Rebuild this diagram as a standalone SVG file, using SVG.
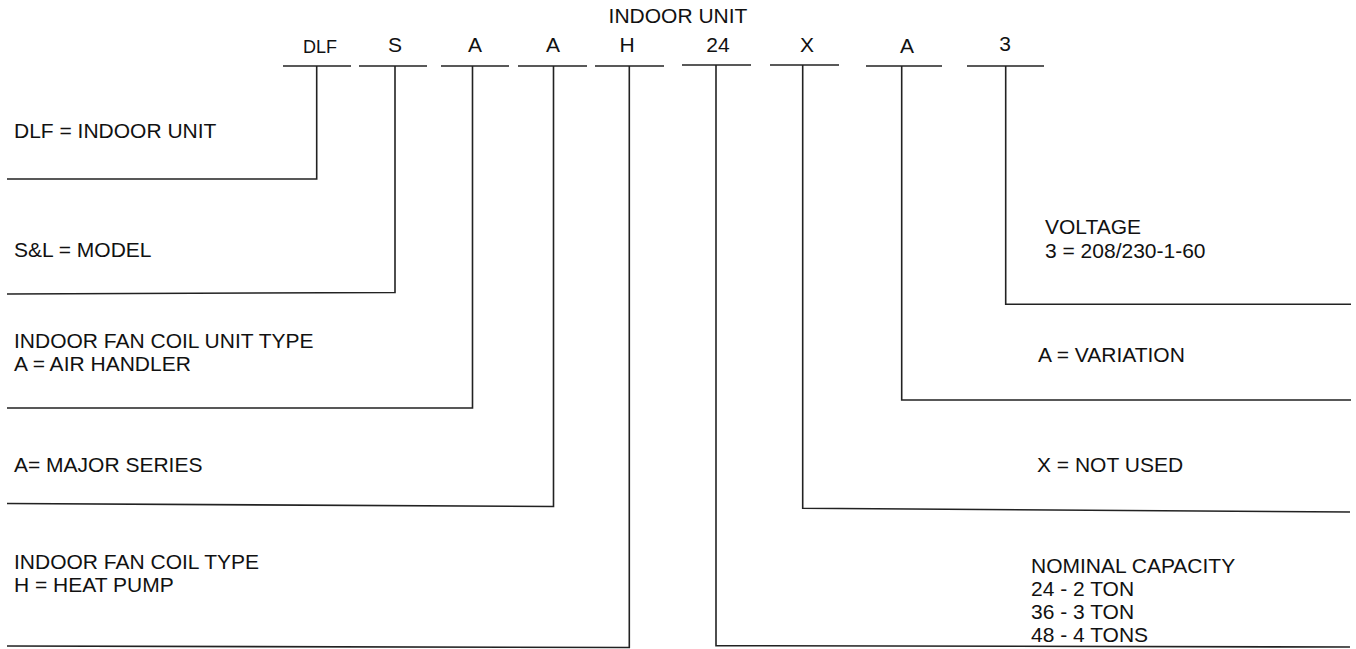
<svg xmlns="http://www.w3.org/2000/svg" width="1356" height="649" viewBox="0 0 1356 649">
<style>
text{font-family:"Liberation Sans",Arial,sans-serif;font-size:21px;fill:#111}
.c{text-anchor:middle}
.seg{stroke:#222;stroke-width:1.6;fill:none}
.con{stroke:#222;stroke-width:1.6;fill:none;stroke-linejoin:miter}
</style>
<rect width="1356" height="649" fill="#fff"/>
<g id="title"><text class="c" x="678" y="23">INDOOR UNIT</text></g>
<g id="code-dlf"><text class="c" x="320" y="53" style="font-size:18px">DLF</text><line class="seg" x1="283" y1="66" x2="351" y2="66"/></g>
<g id="code-s"><text class="c" x="395" y="52">S</text><line class="seg" x1="359" y1="66" x2="427" y2="66"/></g>
<g id="code-a1"><text class="c" x="475" y="52">A</text><line class="seg" x1="441" y1="66" x2="509" y2="66"/></g>
<g id="code-a2"><text class="c" x="553" y="52">A</text><line class="seg" x1="518" y1="66" x2="587" y2="66"/></g>
<g id="code-h"><text class="c" x="627" y="52">H</text><line class="seg" x1="595" y1="66" x2="664" y2="66"/></g>
<g id="code-24"><text class="c" x="718" y="52">24</text><line class="seg" x1="682" y1="65" x2="751" y2="65"/></g>
<g id="code-x"><text class="c" x="807" y="52">X</text><line class="seg" x1="770" y1="65" x2="839" y2="65"/></g>
<g id="code-a3"><text class="c" x="907" y="53">A</text><line class="seg" x1="866" y1="66" x2="942" y2="66"/></g>
<g id="code-3"><text class="c" x="1005" y="51">3</text><line class="seg" x1="967" y1="66" x2="1044" y2="66"/></g>

<g id="desc-dlf"><text x="14" y="138">DLF = INDOOR UNIT</text></g>
<g id="desc-s"><text x="14" y="257">S&amp;L = MODEL</text></g>
<g id="desc-a1"><text x="14" y="348">INDOOR FAN COIL UNIT TYPE</text><text x="14" y="371">A = AIR HANDLER</text></g>
<g id="desc-a2"><text x="14" y="472">A= MAJOR SERIES</text></g>
<g id="desc-h"><text x="14" y="569">INDOOR FAN COIL TYPE</text><text x="14" y="592">H = HEAT PUMP</text></g>
<g id="desc-3"><text x="1045" y="234">VOLTAGE</text><text x="1045" y="258">3 = 208/230-1-60</text></g>
<g id="desc-a3"><text x="1038" y="362">A = VARIATION</text></g>
<g id="desc-x"><text x="1037" y="472">X = NOT USED</text></g>
<g id="desc-24"><text x="1031" y="573">NOMINAL CAPACITY</text><text x="1031" y="596">24 - 2 TON</text><text x="1031" y="619">36 - 3 TON</text><text x="1031" y="642">48 - 4 TONS</text></g>

<g id="connectors">
<path class="con" d="M316.7,66 V179 H7"/>
<path class="con" d="M395,66 V292.5 L7,294"/>
<path class="con" d="M472.5,66 V408 H7"/>
<path class="con" d="M553.5,66 V506.5 L7,503.5"/>
<path class="con" d="M629.3,66 V647.5 L7,646"/>
<path class="con" d="M716,65 V645.7 L1350,647"/>
<path class="con" d="M802.7,65 V508.3 L1350,512"/>
<path class="con" d="M901.7,66 V400 H1351"/>
<path class="con" d="M1005.7,66 V304.3 H1351"/>
</g>
</svg>
